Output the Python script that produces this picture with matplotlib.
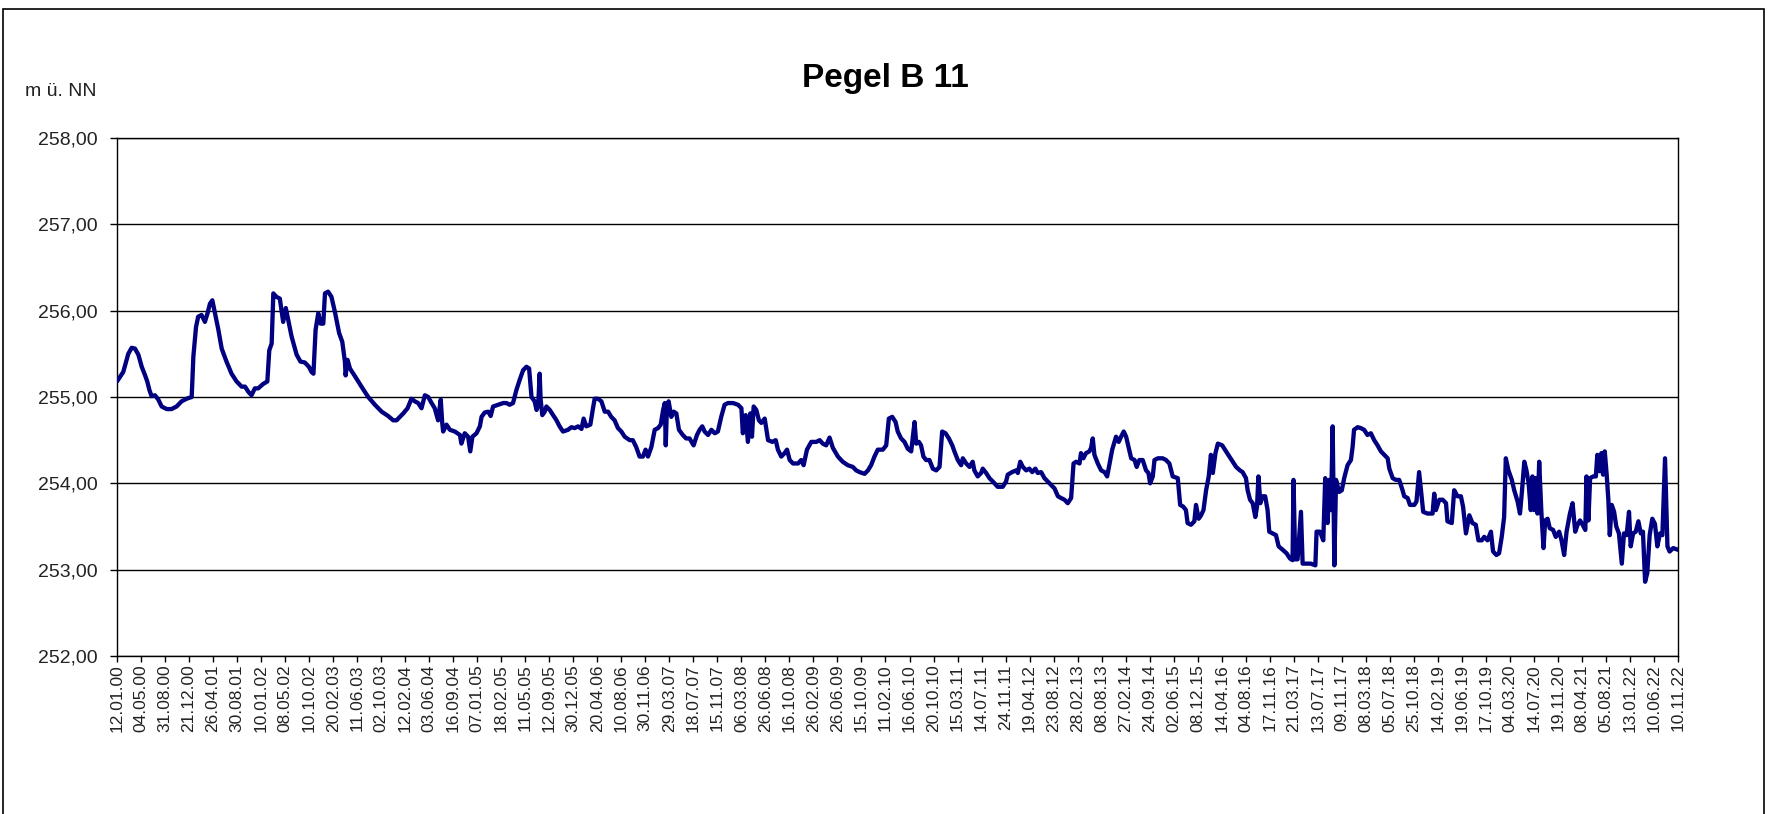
import matplotlib
matplotlib.use('Agg')
import matplotlib.pyplot as plt
from matplotlib.patches import Rectangle

plt.rcParams['font.family'] = ['Liberation Sans', 'DejaVu Sans']

# Stichtage der Achsbeschriftung (jede n-te Messung)
date_labels = [
    '12.01.00', '04.05.00', '31.08.00', '21.12.00', '26.04.01', '30.08.01',
    '10.01.02', '08.05.02', '10.10.02', '20.02.03', '11.06.03', '02.10.03',
    '12.02.04', '03.06.04', '16.09.04', '07.01.05', '18.02.05', '11.05.05',
    '12.09.05', '30.12.05', '20.04.06', '10.08.06', '30.11.06', '29.03.07',
    '18.07.07', '15.11.07', '06.03.08', '26.06.08', '16.10.08', '26.02.09',
    '26.06.09', '15.10.09', '11.02.10', '16.06.10', '20.10.10', '15.03.11',
    '14.07.11', '24.11.11', '19.04.12', '23.08.12', '28.02.13', '08.08.13',
    '27.02.14', '24.09.14', '02.06.15', '08.12.15', '14.04.16', '04.08.16',
    '17.11.16', '21.03.17', '13.07.17', '09.11.17', '08.03.18', '05.07.18',
    '25.10.18', '14.02.19', '19.06.19', '17.10.19', '04.03.20', '14.07.20',
    '19.11.20', '08.04.21', '05.08.21', '13.01.22', '10.06.22', '10.11.22',
]

y_ticks = [252, 253, 254, 255, 256, 257, 258]
y_labels = ['252,00', '253,00', '254,00', '255,00', '256,00', '257,00', '258,00']

# Lage der Messung auf der Kategorienachse (in Beschriftungsschritten)
pos = [
    0.00, 0.26, 0.47, 0.61, 0.75, 0.89, 1.03, 1.17, 1.26, 1.35, 1.44, 1.58,
    1.72, 1.86, 2.07, 2.27, 2.48, 2.69, 2.90, 3.11, 3.18, 3.29, 3.38, 3.52,
    3.66, 3.77, 3.87, 3.97, 4.08, 4.22, 4.36, 4.56, 4.77, 4.98, 5.19, 5.33,
    5.47, 5.60, 5.74, 5.88, 6.08, 6.26, 6.34, 6.44, 6.51, 6.64, 6.78, 6.92,
    7.03, 7.13, 7.27, 7.48, 7.64, 7.82, 7.99, 8.10, 8.18, 8.27, 8.38, 8.48,
    8.59, 8.66, 8.79, 8.93, 9.07, 9.25, 9.38, 9.49, 9.52, 9.60, 9.70, 9.91,
    10.18, 10.46, 10.74, 11.02, 11.29, 11.50, 11.64, 11.78, 11.92, 12.10, 12.26, 12.40,
    12.54, 12.68, 12.82, 12.96, 13.10, 13.23, 13.37, 13.48, 13.54, 13.58, 13.72, 13.86,
    14.07, 14.28, 14.34, 14.48, 14.62, 14.71, 14.80, 14.97, 15.11, 15.18, 15.31, 15.46,
    15.56, 15.66, 15.87, 16.08, 16.22, 16.35, 16.49, 16.63, 16.77, 16.91,
    17.05, 17.16, 17.26, 17.39, 17.47, 17.54, 17.60, 17.64, 17.71, 17.81, 17.88, 18.02,
    18.16, 18.30, 18.43, 18.57, 18.78, 18.92, 19.06, 19.20, 19.34, 19.43, 19.54, 19.71,
    19.82, 19.89, 20.03, 20.17, 20.31, 20.45, 20.58, 20.72, 20.86, 21.00, 21.14, 21.35,
    21.48, 21.62, 21.76, 21.90, 22.01, 22.11, 22.25, 22.39, 22.53, 22.64, 22.74, 22.81,
    22.85, 22.90, 22.97, 23.08, 23.18, 23.29, 23.40, 23.56, 23.70, 23.84, 24.01, 24.15,
    24.26, 24.37, 24.47, 24.61, 24.75, 24.89, 25.02, 25.16, 25.30, 25.44, 25.65, 25.86,
    26.00, 26.06, 26.18, 26.27, 26.37, 26.44, 26.51, 26.62, 26.73, 26.83, 26.97, 27.11,
    27.29, 27.43, 27.52, 27.66, 27.80, 27.90, 28.01, 28.15, 28.36, 28.49, 28.59, 28.73,
    28.91, 29.12, 29.26, 29.39, 29.53, 29.67, 29.81, 30.02, 30.22, 30.43, 30.64, 30.78,
    30.92, 31.13, 31.27, 31.40, 31.54, 31.68, 31.89, 32.03, 32.14, 32.28, 32.42, 32.51,
    32.65, 32.79, 32.93, 33.07, 33.21, 33.28, 33.39, 33.48, 33.58, 33.69, 33.83,
    33.97, 34.11, 34.25, 34.36, 34.50, 34.64, 34.78, 34.87, 35.01, 35.15, 35.22, 35.36,
    35.50, 35.63, 35.70, 35.84, 35.98, 36.05, 36.19, 36.33, 36.54, 36.67, 36.88, 37.02,
    37.09, 37.27, 37.44, 37.51, 37.61, 37.72, 37.86, 37.99, 38.11, 38.24, 38.34, 38.48,
    38.62, 38.76, 38.90, 39.04, 39.18, 39.31, 39.45, 39.59, 39.73, 39.83, 39.94, 40.08,
    40.14, 40.24, 40.35, 40.49, 40.56, 40.63, 40.70, 40.84, 40.98, 41.12, 41.23, 41.32,
    41.44, 41.60, 41.71, 41.81, 41.92, 42.02, 42.13, 42.23, 42.37, 42.46, 42.57, 42.71,
    42.85, 42.95, 43.02, 43.13, 43.20, 43.34, 43.54, 43.68, 43.82, 43.96, 44.17, 44.27,
    44.40, 44.51, 44.58, 44.72, 44.86, 44.93, 45.04, 45.14, 45.24, 45.35, 45.46, 45.55,
    45.63, 45.74, 45.84, 46.02, 46.18, 46.32, 46.46, 46.60, 46.76, 46.87, 47.01, 47.08,
    47.18, 47.29, 47.40, 47.47, 47.53, 47.61, 47.70, 47.81, 47.91, 47.98, 48.12, 48.26,
    48.37, 48.54, 48.70, 48.84, 48.95, 48.99, 49.06, 49.16, 49.30, 49.37, 49.51, 49.71,
    49.90, 49.95, 50.09, 50.23, 50.31, 50.41, 50.48, 50.55,
    50.62, 50.69, 50.76, 50.89, 51.00, 51.10, 51.24, 51.38, 51.45, 51.51, 51.66, 51.79,
    51.93, 52.07, 52.21, 52.35, 52.49, 52.63, 52.77, 52.91, 52.98, 53.12, 53.25, 53.39,
    53.53, 53.60, 53.74, 53.84, 54.02, 54.11, 54.22, 54.32, 54.39, 54.57, 54.78, 54.85,
    54.92, 55.06, 55.20, 55.34, 55.40, 55.58, 55.68, 55.82, 55.96, 56.05, 56.17, 56.31,
    56.44, 56.58, 56.69, 56.83, 56.93, 57.07, 57.21, 57.30, 57.44, 57.55, 57.66, 57.76,
    57.83, 57.94, 58.08, 58.18, 58.32, 58.42, 58.50, 58.60, 58.69, 58.78, 58.87, 58.94,
    59.01, 59.08, 59.15, 59.22, 59.31, 59.40, 59.47, 59.57, 59.66, 59.80, 59.91, 60.05,
    60.15, 60.26, 60.36, 60.50, 60.61, 60.72, 60.82, 60.92, 61.03, 61.14, 61.19, 61.27,
    61.34, 61.47, 61.58, 61.64, 61.74, 61.81, 61.88, 61.95, 62.03, 62.10, 62.16, 62.24,
    62.34, 62.43, 62.54, 62.66, 62.75, 62.86, 62.96, 63.03, 63.13, 63.24, 63.35, 63.45,
    63.54, 63.63, 63.72, 63.82, 63.93, 64.04, 64.14, 64.25, 64.35, 64.46, 64.56, 64.65,
    64.80, 65.00,
]

# Wasserstand in m ü. NN
level = [
    255.18, 255.29, 255.50, 255.57, 255.56, 255.49, 255.35, 255.25, 255.18, 255.08, 255.01, 255.02,
    254.97, 254.89, 254.86, 254.86, 254.89, 254.95, 254.98, 255.00, 255.47, 255.81, 255.93, 255.95,
    255.87, 255.97, 256.08, 256.12, 255.97, 255.78, 255.56, 255.41, 255.27, 255.18, 255.12, 255.12,
    255.06, 255.02, 255.10, 255.10, 255.15, 255.18, 255.54, 255.62, 256.20, 256.16, 256.14, 255.87,
    256.03, 255.89, 255.70, 255.49, 255.41, 255.40, 255.35, 255.29, 255.27, 255.78, 255.97, 255.85,
    255.85, 256.20, 256.22, 256.16, 255.99, 255.74, 255.64, 255.41, 255.25, 255.43, 255.33, 255.24,
    255.12, 255.00, 254.91, 254.83, 254.78, 254.73, 254.73, 254.77, 254.81, 254.87, 254.98, 254.95,
    254.93, 254.87, 255.02, 255.00, 254.93, 254.87, 254.73, 254.97, 254.71, 254.60, 254.68, 254.62,
    254.60, 254.56, 254.46, 254.58, 254.54, 254.37, 254.54, 254.58, 254.66, 254.77, 254.82, 254.83,
    254.78, 254.89, 254.91, 254.93, 254.93, 254.91, 254.93, 255.08, 255.20, 255.31,
    255.35, 255.33, 255.00, 254.95, 254.85, 254.91, 255.27, 254.97, 254.79, 254.83, 254.89, 254.85,
    254.79, 254.73, 254.66, 254.60, 254.62, 254.65, 254.64, 254.66, 254.63, 254.75, 254.66, 254.68,
    254.87, 254.98, 254.98, 254.95, 254.83, 254.83, 254.77, 254.73, 254.64, 254.60, 254.54, 254.50,
    254.50, 254.42, 254.31, 254.31, 254.39, 254.31, 254.42, 254.62, 254.64, 254.68, 254.85, 254.93,
    254.44, 254.89, 254.95, 254.77, 254.83, 254.81, 254.62, 254.56, 254.52, 254.52, 254.44, 254.56,
    254.62, 254.66, 254.60, 254.56, 254.62, 254.58, 254.60, 254.77, 254.91, 254.93, 254.93, 254.91,
    254.87, 254.58, 254.79, 254.48, 254.81, 254.54, 254.89, 254.85, 254.73, 254.70, 254.75, 254.50,
    254.48, 254.50, 254.39, 254.31, 254.35, 254.39, 254.27, 254.23, 254.23, 254.27, 254.21, 254.39,
    254.48, 254.48, 254.50, 254.46, 254.44, 254.53, 254.41, 254.31, 254.25, 254.21, 254.19, 254.15,
    254.13, 254.11, 254.15, 254.21, 254.31, 254.39, 254.39, 254.44, 254.75, 254.77, 254.71, 254.60,
    254.52, 254.48, 254.40, 254.37, 254.71, 254.46, 254.48, 254.44, 254.31, 254.27, 254.27,
    254.17, 254.15, 254.19, 254.60, 254.58, 254.52, 254.44, 254.37, 254.27, 254.21, 254.29, 254.23,
    254.19, 254.25, 254.15, 254.08, 254.12, 254.17, 254.12, 254.06, 254.00, 253.96, 253.96, 254.02,
    254.10, 254.13, 254.15, 254.12, 254.25, 254.19, 254.15, 254.17, 254.13, 254.17, 254.12, 254.13,
    254.06, 254.02, 253.98, 253.94, 253.85, 253.83, 253.81, 253.77, 253.83, 254.23, 254.25, 254.23,
    254.35, 254.29, 254.35, 254.37, 254.41, 254.52, 254.33, 254.23, 254.15, 254.13, 254.08, 254.21,
    254.39, 254.54, 254.48, 254.54, 254.60, 254.54, 254.41, 254.29, 254.27, 254.19, 254.27, 254.27,
    254.15, 254.12, 254.00, 254.08, 254.27, 254.29, 254.29, 254.27, 254.23, 254.08, 254.06, 253.75,
    253.73, 253.69, 253.54, 253.52, 253.56, 253.75, 253.59, 253.63, 253.69, 253.92, 254.08, 254.33,
    254.12, 254.35, 254.46, 254.44, 254.37, 254.31, 254.25, 254.19, 254.15, 254.13, 254.06, 253.92,
    253.81, 253.77, 253.61, 253.73, 254.08, 253.77, 253.85, 253.85, 253.69, 253.44, 253.42, 253.40,
    253.27, 253.23, 253.19, 253.13, 253.11, 254.04, 253.12, 253.12, 253.67, 253.07, 253.07, 253.07,
    253.05, 253.44, 253.44, 253.34, 254.06, 253.54, 254.04, 253.69,
    254.66, 253.05, 254.04, 253.90, 253.92, 254.06, 254.21, 254.27, 254.42, 254.62, 254.65, 254.64,
    254.62, 254.56, 254.58, 254.50, 254.44, 254.37, 254.33, 254.29, 254.17, 254.06, 254.04, 254.04,
    253.92, 253.85, 253.83, 253.75, 253.75, 253.79, 254.13, 253.86, 253.67, 253.65, 253.65, 253.88,
    253.69, 253.81, 253.81, 253.77, 253.56, 253.54, 253.92, 253.85, 253.85, 253.73, 253.42, 253.63,
    253.54, 253.52, 253.34, 253.34, 253.38, 253.34, 253.44, 253.21, 253.17, 253.19, 253.38, 253.61,
    254.29, 254.15, 254.04, 253.92, 253.79, 253.65, 253.90, 254.25, 254.15, 254.00, 253.69, 254.08,
    253.69, 254.06, 253.65, 254.25, 253.67, 253.25, 253.57, 253.59, 253.48, 253.46, 253.38, 253.44,
    253.34, 253.17, 253.44, 253.65, 253.77, 253.44, 253.52, 253.57, 253.52, 253.46, 254.08, 253.57,
    254.06, 254.08, 254.08, 254.33, 254.14, 254.35, 254.10, 254.37, 254.10, 253.81, 253.40, 253.75,
    253.67, 253.50, 253.42, 253.07, 253.42, 253.40, 253.67, 253.27, 253.42, 253.44, 253.56, 253.42,
    253.44, 252.86, 252.96, 253.40, 253.59, 253.53, 253.27, 253.42, 253.40, 254.29, 253.27, 253.21,
    253.25, 253.23,
]

fig = plt.figure(figsize=(17.71, 8.14), dpi=100)
ax = fig.add_axes([117 / 1771, 1 - 656 / 814, (1678 - 117) / 1771, (656 - 138) / 814])

ax.plot(pos, level, color='#000080', linewidth=3.1, solid_joinstyle='round',
        solid_capstyle='round', zorder=3)

ax.set_xlim(0, len(date_labels) - 1)
ax.set_ylim(y_ticks[0], y_ticks[-1])
ax.set_yticks(y_ticks)
ax.set_yticklabels(y_labels)
ax.set_xticks(range(len(date_labels)))
ax.set_xticklabels(date_labels, rotation=90)

ax.grid(axis='y', color='#000000', linewidth=1.0)
ax.set_axisbelow(True)
for sp in ax.spines.values():
    sp.set_color('#000000')
    sp.set_linewidth(1.0)

ax.tick_params(axis='y', direction='out', length=5, width=1.0, pad=9,
               labelsize=14, colors='#000000', labelcolor='#222222')
ax.tick_params(axis='x', direction='out', length=4, width=1.0, pad=2,
               labelsize=12.5, colors='#000000', labelcolor='#222222')

fig.text(0.5, 1 - 79 / 814, 'Pegel B 11', ha='center', va='center',
         fontsize=24, fontweight='bold', color='#000000')
fig.text(25 / 1771, 1 - 92 / 814, 'm ü. NN', ha='left', va='center',
         fontsize=14, color='#222222')

# Rahmen um das Diagramm (unterer Rand liegt ausserhalb des Bildes)
fig.patches.append(Rectangle((3.5 / 1771, -0.02), (1764 - 3.5) / 1771, 1.02 - 9 / 814,
                             transform=fig.transFigure, fill=False,
                             edgecolor='#000000', linewidth=1.2))

fig.savefig('out.png', dpi=100)
